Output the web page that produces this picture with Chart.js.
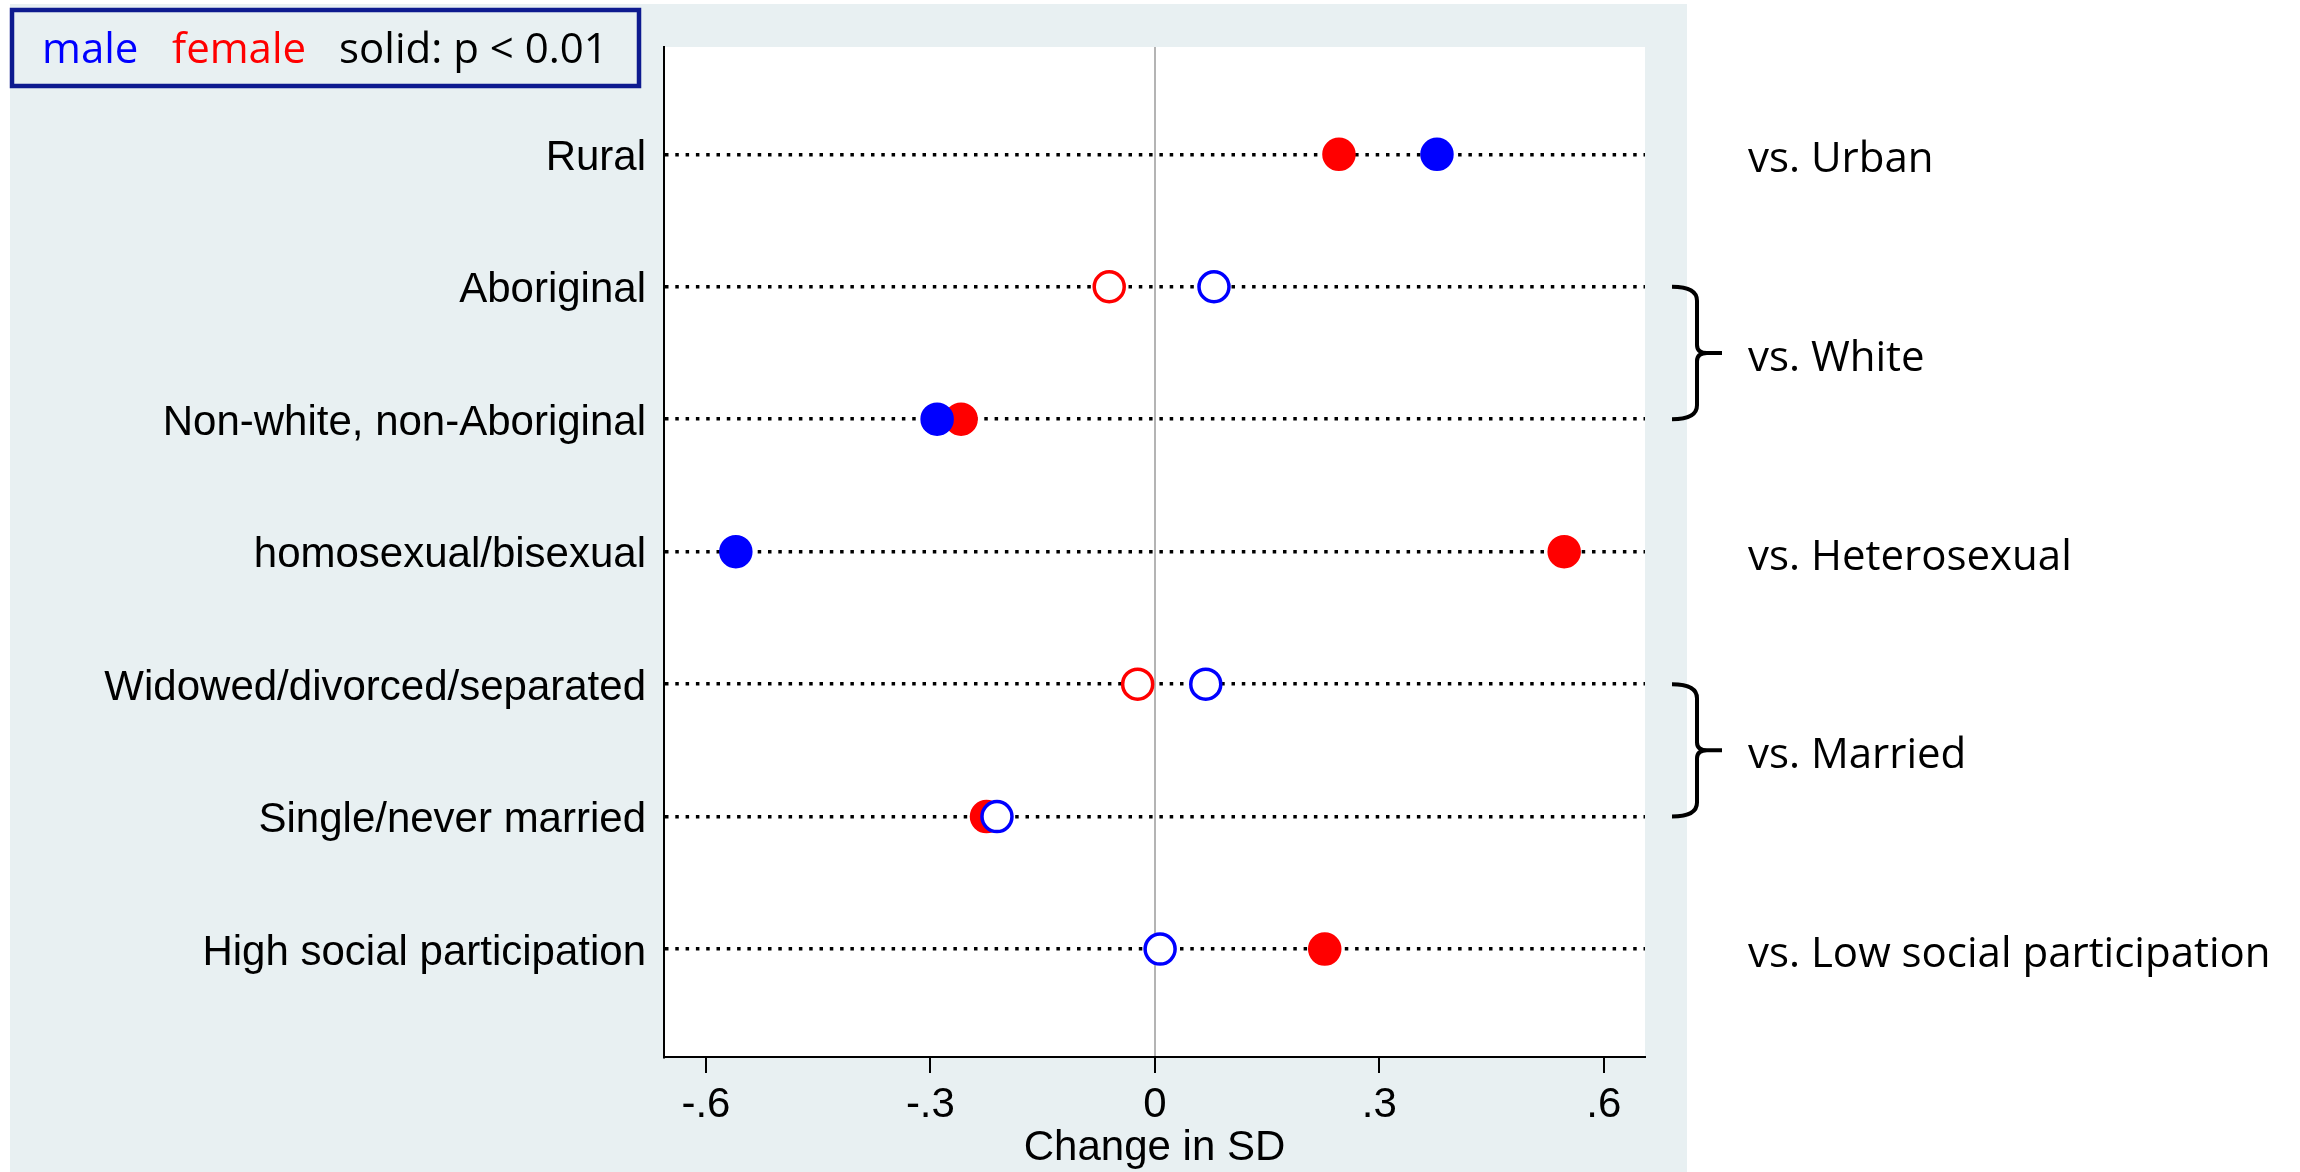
<!DOCTYPE html>
<html>
<head>
<meta charset="utf-8">
<script src="https://cdn.jsdelivr.net/npm/chart.js@4.4.1/dist/chart.umd.min.js"></script>
<style>
  html, body { margin: 0; padding: 0; background: #fff; }
  #wrap { width: 2300px; height: 1172px; }
</style>
</head>
<body>
<div id="wrap"><canvas id="chart" width="2300" height="1172"></canvas></div>
<script>
// ---- data ----
const CATEGORIES = [
  'Rural',
  'Aboriginal',
  'Non-white, non-Aboriginal',
  'homosexual/bisexual',
  'Widowed/divorced/separated',
  'Single/never married',
  'High social participation'
]
const MALE   = [0.377,  0.079, -0.291, -0.560,  0.068, -0.211, 0.007]
const FEMALE = [0.246, -0.061, -0.259,  0.547, -0.023, -0.225, 0.227]
// solid marker = p < 0.01
const MALE_SIG   = [true, false, true, true, false, false, false]
const FEMALE_SIG = [true, false, true, true, false, true,  true]

const X_TICKS       = [-0.6, -0.3, 0, 0.3, 0.6]
const X_TICK_LABELS = ['-.6', '-.3', '0', '.3', '.6']

// reference groups on the right (rows are 1-based)
const REF_LABELS = ['vs. Urban', 'vs. White', 'vs. Heterosexual', 'vs. Married', 'vs. Low social participation']
const REF_ROWS   = [[1], [2, 3], [4], [5, 6], [7]]

// ---- styles ----
const BLUE = '#0000ff'
const RED = '#ff0000'
const PANEL = '#e8f0f2'
const STATA_FONT = "'Liberation Sans', Arial, sans-serif"
const OFFICE_FONT = "'Open Sans', sans-serif"

function pts(values) {
  return values.map((v, i) => ({ x: v, y: i + 1 }))
}

// background: grey graph region, white plot region
const bgPlugin = {
  id: 'bg',
  beforeDraw(chart) {
    const { ctx, chartArea: a } = chart
    ctx.save()
    ctx.fillStyle = '#fff'
    ctx.fillRect(0, 0, chart.width, chart.height)
    ctx.fillStyle = PANEL
    ctx.fillRect(10, 4, a.right + 42 - 10, chart.height - 4)
    ctx.fillStyle = '#fff'
    ctx.fillRect(a.left, a.top, a.right - a.left, a.bottom - a.top)
    ctx.restore()
  }
}

// legend box + reference labels with braces
const notesPlugin = {
  id: 'notes',
  afterDraw(chart) {
    const { ctx, chartArea: a } = chart
    const yScale = chart.scales.y
    ctx.save()

    // legend box
    ctx.strokeStyle = '#0d1a8f'
    ctx.lineWidth = 4.5
    ctx.strokeRect(12, 10, 627, 76)
    ctx.font = `42px ${OFFICE_FONT}`
    ctx.textBaseline = 'alphabetic'
    ctx.textAlign = 'left'
    ctx.fillStyle = BLUE
    ctx.fillText('male', 42, 63)
    ctx.fillStyle = RED
    ctx.fillText('female', 172, 63)
    ctx.fillStyle = '#000'
    ctx.fillText('solid: p < 0.01', 339, 63)

    // braces + labels
    const x0 = a.right + 27, xb = a.right + 52, xt = a.right + 77
    ctx.strokeStyle = '#000'
    ctx.lineWidth = 4
    REF_ROWS.forEach((rows, i) => {
      const y1 = yScale.getPixelForValue(rows[0])
      const y2 = yScale.getPixelForValue(rows[rows.length - 1])
      const ym = (y1 + y2) / 2
      if (rows.length > 1) {
        ctx.beginPath()
        ctx.moveTo(x0, y1)
        ctx.quadraticCurveTo(xb, y1, xb, y1 + 14)
        ctx.lineTo(xb, ym - 8)
        ctx.quadraticCurveTo(xb, ym, xb + 10, ym)
        ctx.lineTo(xt, ym)
        ctx.moveTo(xb + 10, ym)
        ctx.quadraticCurveTo(xb, ym, xb, ym + 8)
        ctx.lineTo(xb, y2 - 14)
        ctx.quadraticCurveTo(xb, y2, x0, y2)
        ctx.stroke()
      }
      ctx.fillStyle = '#000'
      ctx.font = `42px ${OFFICE_FONT}`
      ctx.fillText(REF_LABELS[i], a.right + 103, ym + 18)
    })
    ctx.restore()
  }
}

new Chart(document.getElementById('chart'), {
  type: 'scatter',
  data: {
    datasets: [
      {
        label: 'male',
        data: pts(MALE),
        pointBackgroundColor: MALE_SIG.map(s => s ? BLUE : '#fff'),
        pointBorderColor: BLUE,
        pointBorderWidth: 3.5,
        pointRadius: 15
      },
      {
        label: 'female',
        data: pts(FEMALE),
        pointBackgroundColor: FEMALE_SIG.map(s => s ? RED : '#fff'),
        pointBorderColor: RED,
        pointBorderWidth: 3.5,
        pointRadius: 15
      }
    ]
  },
  options: {
    responsive: false,
    animation: false,
    devicePixelRatio: 1,
    layout: { padding: { top: 47, right: 655, left: 0, bottom: 0 } },
    plugins: {
      legend: { display: false },
      tooltip: { enabled: false }
    },
    scales: {
      x: {
        type: 'linear',
        min: -0.656,
        max: 0.655,
        afterBuildTicks: s => { s.ticks = X_TICKS.map(v => ({ value: v })) },
        afterFit: s => { s.height = 115 },
        ticks: {
          autoSkip: false,
          maxRotation: 0,
          color: '#000',
          padding: 7,
          font: { family: STATA_FONT, size: 42 },
          callback: (v, i) => X_TICK_LABELS[i]
        },
        grid: {
          color: c => (c.tick && c.tick.value === 0) ? '#b4b4b4' : 'rgba(0,0,0,0)',
          lineWidth: 2,
          tickColor: '#000',
          tickWidth: 2,
          tickLength: 16
        },
        border: { color: '#000', width: 2 },
        title: {
          display: true,
          text: 'Change in SD',
          color: '#000',
          padding: { top: 0, bottom: -2 },
          font: { family: STATA_FONT, size: 42 }
        }
      },
      y: {
        type: 'linear',
        reverse: true,
        min: 0.19,
        max: 7.815,
        afterBuildTicks: s => { s.ticks = CATEGORIES.map((c, i) => ({ value: i + 1 })) },
        afterFit: s => { s.width = 664 },
        ticks: {
          autoSkip: false,
          color: '#000',
          padding: 18,
          labelOffset: 4,
          font: { family: STATA_FONT, size: 42 },
          callback: (v, i) => CATEGORIES[i]
        },
        grid: { color: '#000', lineWidth: 3.5, drawTicks: false },
        border: { color: '#000', width: 2, dash: [3.5, 6.8] }
      }
    }
  },
  plugins: [bgPlugin, notesPlugin]
})
</script>
</body>
</html>
